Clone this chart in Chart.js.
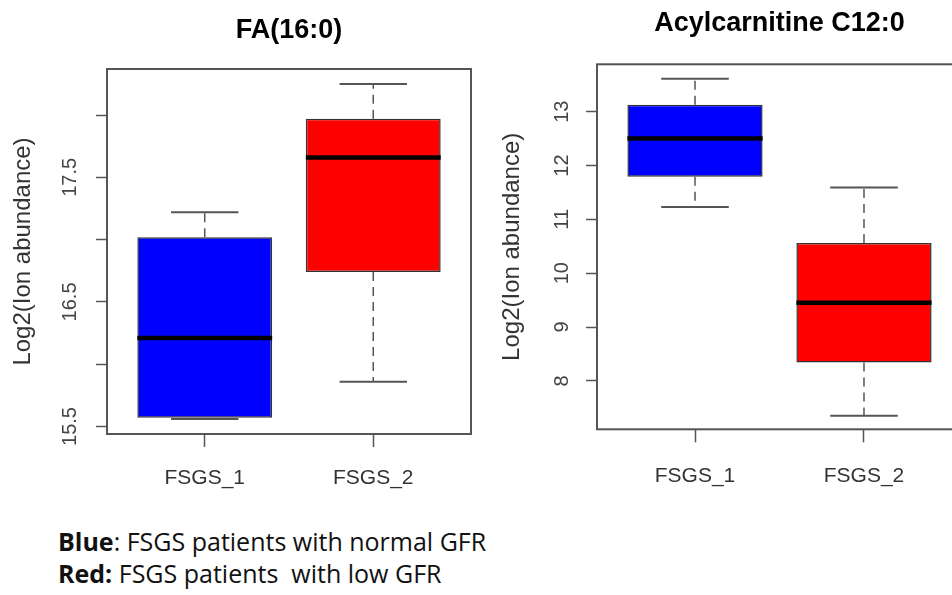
<!DOCTYPE html>
<html>
<head>
<meta charset="utf-8">
<script src="https://cdn.jsdelivr.net/npm/chart.js@4.4.1/dist/chart.umd.min.js"></script>
<style>
  html, body { margin: 0; padding: 0; background: #fff; }
  body { width: 952px; height: 595px; overflow: hidden; position: relative; }
  .cv { position: absolute; top: 0; }
  #legendText { position: absolute; left: 58px; top: 525px; font-family: "Open Sans", sans-serif; font-size: 25px; line-height: 32px; color: #111; white-space: pre; }
  #legendText b { font-weight: 700; }
</style>
</head>
<body>
<div class="cv" style="left:0;width:480px;height:500px;"><canvas id="c1" width="480" height="500"></canvas></div>
<div class="cv" style="left:480px;width:500px;height:500px;"><canvas id="c2" width="500" height="500"></canvas></div>
<div id="legendText"><b>Blue</b>: FSGS patients with normal GFR
<b>Red:</b> FSGS patients  with low GFR</div>
<script>
// ---- data ----
const categories = ['FSGS_1', 'FSGS_2'];
const boxColors = ['#0000FF', '#FF0000'];

const faTitle = 'FA(16:0)';
const faMin    = [15.56, 15.86];
const faQ1     = [15.57, 16.74];
const faMedian = [16.21, 17.66];
const faQ3     = [17.02, 17.97];
const faMax    = [17.22, 18.25];
const faYRange = [15.44, 18.37];
const faYTicks = [15.5, 16, 16.5, 17, 17.5, 18];
const faYTickLabels = ['15.5', '', '16.5', '', '17.5', ''];

const acTitle = 'Acylcarnitine C12:0';
const acMin    = [11.23, 7.35];
const acQ1     = [11.79, 8.34];
const acMedian = [12.50, 9.45];
const acQ3     = [13.13, 10.56];
const acMax    = [13.61, 11.59];
const acYRange = [7.10, 13.88];
const acYTicks = [8, 9, 10, 11, 12, 13];
const acYTickLabels = ['8', '9', '10', '11', '12', '13'];

const xRange = [0.42, 2.58];
const yTitle = 'Log2(Ion abundance)';

// ---- plugins ----
const boxplotPlugin = {
  id: 'boxplotExtras',
  afterDatasetsDraw(chart, args, opts) {
    const {ctx} = chart;
    const xs = chart.scales.x, ys = chart.scales.y;
    const st = opts.stats;
    ctx.save();
    for (let i = 0; i < st.median.length; i++) {
      const xv = i + 1;
      const cx = xs.getPixelForValue(xv);
      const capL = xs.getPixelForValue(xv - 0.2), capR = xs.getPixelForValue(xv + 0.2);
      const boxL = xs.getPixelForValue(xv - 0.4), boxR = xs.getPixelForValue(xv + 0.4);
      // whiskers (dashed)
      ctx.strokeStyle = '#555';
      ctx.lineWidth = 1.5;
      ctx.setLineDash([9, 6]);
      ctx.beginPath();
      ctx.moveTo(cx, ys.getPixelForValue(st.q3[i]));
      ctx.lineTo(cx, ys.getPixelForValue(st.max[i]));
      ctx.moveTo(cx, ys.getPixelForValue(st.q1[i]));
      ctx.lineTo(cx, ys.getPixelForValue(st.min[i]));
      ctx.stroke();
      // staples
      ctx.setLineDash([]);
      ctx.lineWidth = 2;
      ctx.beginPath();
      ctx.moveTo(capL, ys.getPixelForValue(st.max[i]));
      ctx.lineTo(capR, ys.getPixelForValue(st.max[i]));
      ctx.moveTo(capL, ys.getPixelForValue(st.min[i]));
      ctx.lineTo(capR, ys.getPixelForValue(st.min[i]));
      ctx.stroke();
      // median
      ctx.strokeStyle = '#000';
      ctx.lineWidth = 4.5;
      ctx.beginPath();
      ctx.moveTo(boxL, ys.getPixelForValue(st.median[i]));
      ctx.lineTo(boxR, ys.getPixelForValue(st.median[i]));
      ctx.stroke();
    }
    ctx.restore();
  },
  afterDraw(chart) {
    const {ctx, chartArea: a} = chart;
    ctx.save();
    ctx.strokeStyle = '#555';
    ctx.lineWidth = 2;
    ctx.strokeRect(a.left, a.top, a.right - a.left, a.bottom - a.top);
    ctx.restore();
  }
};

function makeBoxChart(id, cfg) {
  const stats = {min: cfg.min, q1: cfg.q1, median: cfg.median, q3: cfg.q3, max: cfg.max};
  return new Chart(document.getElementById(id), {
    type: 'bar',
    data: {
      datasets: [{
        data: categories.map((c, i) => ({x: i + 1, y: [cfg.q1[i], cfg.q3[i]]})),
        backgroundColor: boxColors,
        borderColor: '#333',
        borderWidth: 1.5,
        borderSkipped: false,
        barPercentage: 0.8,
        categoryPercentage: 1.0
      }]
    },
    options: {
      responsive: false,
      animation: false,
      events: [],
      layout: {padding: {left: 0, right: cfg.rightPad, top: 0, bottom: 0}},
      plugins: {
        legend: {display: false},
        tooltip: {enabled: false},
        title: {
          display: true,
          text: cfg.title,
          fullSize: false,
          color: '#000',
          font: {family: 'Liberation Sans, Arial, sans-serif', size: 27, weight: 'bold'},
          padding: {top: cfg.titleTop, bottom: cfg.titleBottom}
        },
        boxplotExtras: {stats}
      },
      scales: {
        x: {
          type: 'linear',
          offset: false,
          min: xRange[0], max: xRange[1],
          afterBuildTicks: (s) => { s.ticks = categories.map((c, i) => ({value: i + 1})); },
          afterFit: (s) => { s.height = cfg.xAxisHeight; },
          grid: {offset: false, drawOnChartArea: false, drawTicks: true, tickLength: 13, tickColor: '#555', tickWidth: 1.5},
          border: {display: false},
          ticks: {
            autoSkip: false,
            maxRotation: 0, minRotation: 0,
            padding: cfg.xTickPad,
            color: '#333',
            font: {family: 'Liberation Sans, Arial, sans-serif', size: 21},
            callback: (v) => categories[Math.round(v) - 1]
          }
        },
        y: {
          type: 'linear',
          min: cfg.yRange[0], max: cfg.yRange[1],
          afterBuildTicks: (s) => { s.ticks = cfg.yTicks.map(v => ({value: v})); },
          afterFit: (s) => { s.width = cfg.yAxisWidth; },
          grid: {drawOnChartArea: false, drawTicks: true, tickLength: 11, tickColor: '#555', tickWidth: 1.5},
          border: {display: false},
          title: {
            display: true,
            text: yTitle,
            color: '#333',
            font: {family: 'Liberation Sans, Arial, sans-serif', size: 24},
            padding: {top: cfg.yTitlePad, bottom: 0}
          },
          ticks: {
            autoSkip: false,
            minRotation: 90, maxRotation: 90,
            crossAlign: 'center',
            padding: cfg.yTickPad,
            color: '#444',
            font: {family: 'Liberation Sans, Arial, sans-serif', size: 20},
            callback: (v, idx) => cfg.yTickLabels[idx]
          }
        }
      }
    },
    plugins: [boxplotPlugin]
  });
}

makeBoxChart('c1', {
  title: faTitle, min: faMin, q1: faQ1, median: faMedian, q3: faQ3, max: faMax,
  yRange: faYRange, yTicks: faYTicks, yTickLabels: faYTickLabels,
  rightPad: 9, titleTop: 14, titleBottom: 22.6, xAxisHeight: 66, yAxisWidth: 107,
  xTickPad: 19, yTickPad: 6, yTitlePad: 8.6
});

makeBoxChart('c2', {
  title: acTitle, min: acMin, q1: acQ1, median: acMedian, q3: acQ3, max: acMax,
  yRange: acYRange, yTicks: acYTicks, yTickLabels: acYTickLabels,
  rightPad: 18, titleTop: 7, titleBottom: 24.9, xAxisHeight: 70.7, yAxisWidth: 117,
  xTickPad: 21, yTickPad: 12.4, yTitlePad: 18
});
</script>
</body>
</html>
